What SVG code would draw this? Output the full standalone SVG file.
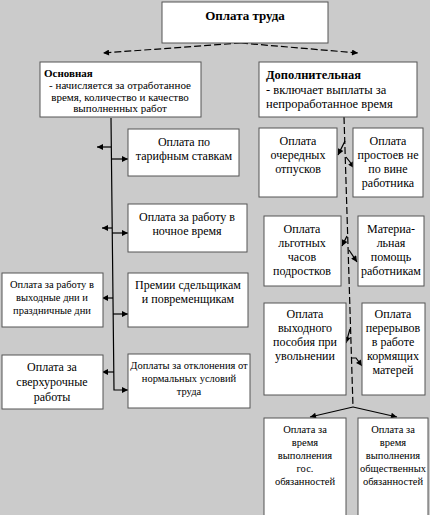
<svg xmlns="http://www.w3.org/2000/svg" width="430" height="515" viewBox="0 0 430 515" font-family="'Liberation Serif', 'DejaVu Serif', 'Times New Roman', serif">
<style>
.box{fill:#fff;stroke:#555;stroke-width:1}
text{font-family:'Liberation Serif','DejaVu Serif','Times New Roman',serif;fill:#000}
.c{text-anchor:middle}
.b{font-weight:bold}
.f12{font-size:12px}
.f11{font-size:11px}
.f10{font-size:10.5px}
.ln{stroke:#000;stroke-width:1.2;fill:none}
.ds{stroke-dasharray:7,3}
</style>
<defs>
<marker id="ah" viewBox="0 0 10 10" refX="10" refY="5" markerWidth="8" markerHeight="6" orient="auto" markerUnits="userSpaceOnUse"><path d="M0,0 L10,5 L0,10 z" fill="#000"/></marker>
</defs>
<rect x="0" y="0" width="430" height="515" fill="#cbcbcb"/>
<g id="connectors">
<path class="ln ds" d="M241,43 L103,53" marker-end="url(#ah)"/>
<path class="ln ds" d="M241,43 L358,53" marker-end="url(#ah)"/>
<path class="ln" d="M111,118 L114,390 L128,390" marker-end="url(#ah)"/>
<path class="ln" d="M111,147 L97,147" marker-end="url(#ah)"/>
<path class="ln" d="M111,159 L128,159" marker-end="url(#ah)"/>
<path class="ln" d="M112,228 L102,228" marker-end="url(#ah)"/>
<path class="ln" d="M112,233 L128,233" marker-end="url(#ah)"/>
<path class="ln" d="M113,298 L102,298" marker-end="url(#ah)"/>
<path class="ln" d="M113,314 L128,314" marker-end="url(#ah)"/>
<path class="ln" d="M114,372 L102,372" marker-end="url(#ah)"/>
<path class="ln ds" d="M344,117 L353,407"/>
<path class="ln" d="M345,141 L338,155" marker-end="url(#ah)"/>
<path class="ln" d="M346,157 L350,162 L354,168" marker-end="url(#ah)"/>
<path class="ln" d="M347,236 L342,246" marker-end="url(#ah)"/>
<path class="ln" d="M349,250 L357,262" marker-end="url(#ah)"/>
<path class="ln" d="M350,329 L346,343" marker-end="url(#ah)"/>
<path class="ln" d="M352,358 L356,358 L362,366" marker-end="url(#ah)"/>
<path class="ln" d="M353,407 L310,417" marker-end="url(#ah)"/>
<path class="ln" d="M353,407 L397,417" marker-end="url(#ah)"/>
</g>
<g id="n-top">
<rect class="box" x="162" y="2" width="166" height="41"/>
<text class="c b" x="245" y="20" font-size="13">Оплата труда</text>
</g>
<g id="n-osn">
<rect class="box" x="40" y="62" width="161" height="55"/>
<text class="b f11" x="44" y="77">Основная</text>
<text class="c f11" x="120" y="89">- начисляется за отработанное</text>
<text class="c f11" x="120" y="101">время, количество и качество</text>
<text class="c f11" x="120" y="112">выполненных работ</text>
</g>
<g id="n-dop">
<rect class="box" x="259" y="62" width="158" height="55"/>
<text class="b" x="266" y="79" font-size="12.5">Дополнительная</text>
<text x="266" y="94" font-size="12.5">- включает выплаты за</text>
<text x="266" y="108" font-size="12.5">непроработанное время</text>
</g>
<g id="n-tarif">
<rect class="box" x="128" y="129" width="111" height="47"/>
<text class="c f12" x="184" y="146">Оплата по</text>
<text class="c f12" x="184" y="160">тарифным ставкам</text>
</g>
<g id="n-night">
<rect class="box" x="128" y="204" width="119" height="48"/>
<text class="c f12" x="187" y="221">Оплата за работу в</text>
<text class="c f12" x="187" y="235">ночное время</text>
</g>
<g id="n-prem">
<rect class="box" x="128" y="273" width="120" height="54"/>
<text class="c f12" x="188" y="289">Премии сдельщикам</text>
<text class="c f12" x="188" y="303">и повременщикам</text>
</g>
<g id="n-vyh">
<rect class="box" x="2" y="273" width="101" height="54"/>
<text class="c f10" x="52" y="288">Оплата за работу в</text>
<text class="c f10" x="52" y="301">выходные дни и</text>
<text class="c f10" x="52" y="314">праздничные дни</text>
</g>
<g id="n-sverh">
<rect class="box" x="2" y="355" width="101" height="54"/>
<text class="c f12" x="52" y="371">Оплата за</text>
<text class="c f12" x="52" y="386">сверхурочные</text>
<text class="c f12" x="52" y="401">работы</text>
</g>
<g id="n-dopl">
<rect class="box" x="128" y="354" width="122" height="54"/>
<text class="c f10" x="189" y="369">Доплаты за отклонения от</text>
<text class="c f10" x="189" y="382">нормальных условий</text>
<text class="c f10" x="189" y="395">труда</text>
</g>
<g id="n-otp">
<rect class="box" x="259" y="128" width="78" height="69"/>
<text class="c f12" x="298" y="145">Оплата</text>
<text class="c f12" x="298" y="159">очередных</text>
<text class="c f12" x="298" y="173">отпусков</text>
</g>
<g id="n-prost">
<rect class="box" x="353" y="128" width="70" height="69"/>
<text class="c f12" x="388" y="145">Оплата</text>
<text class="c f12" x="388" y="159">простоев не</text>
<text class="c f12" x="388" y="173">по вине</text>
<text class="c f12" x="388" y="187">работника</text>
</g>
<g id="n-lgot">
<rect class="box" x="264" y="216" width="77" height="70"/>
<text class="c f12" x="302" y="233">Оплата</text>
<text class="c f12" x="302" y="247">льготных</text>
<text class="c f12" x="302" y="261">часов</text>
<text class="c f12" x="302" y="275">подростков</text>
</g>
<g id="n-mat">
<rect class="box" x="358" y="216" width="66" height="70"/>
<text class="c f12" x="391" y="233">Материа-</text>
<text class="c f12" x="391" y="247">льная</text>
<text class="c f12" x="391" y="261">помощь</text>
<text class="c f12" x="391" y="275">работникам</text>
</g>
<g id="n-uvol">
<rect class="box" x="264" y="303" width="82" height="92"/>
<text class="c f12" x="305" y="318">Оплата</text>
<text class="c f12" x="305" y="332">выходного</text>
<text class="c f12" x="305" y="346">пособия при</text>
<text class="c f12" x="305" y="360">увольнении</text>
</g>
<g id="n-korm">
<rect class="box" x="362" y="303" width="63" height="92"/>
<text class="c f12" x="393" y="318">Оплата</text>
<text class="c f12" x="393" y="332">перерывов</text>
<text class="c f12" x="393" y="346">в работе</text>
<text class="c f12" x="393" y="360">кормящих</text>
<text class="c f12" x="393" y="374">матерей</text>
</g>
<g id="n-gos">
<rect class="box" x="264" y="418" width="82" height="100"/>
<text class="c f10" x="305" y="433">Оплата за</text>
<text class="c f10" x="305" y="446">время</text>
<text class="c f10" x="305" y="459">выполнения</text>
<text class="c f10" x="305" y="472">гос.</text>
<text class="c f10" x="305" y="485">обязанностей</text>
</g>
<g id="n-obsch">
<rect class="box" x="358" y="418" width="70" height="100"/>
<text class="c f10" x="393" y="433">Оплата за</text>
<text class="c f10" x="393" y="446">время</text>
<text class="c f10" x="393" y="459">выполнения</text>
<text class="c f10" x="393" y="472">общественных</text>
<text class="c f10" x="393" y="485">обязанностей</text>
</g>
</svg>
